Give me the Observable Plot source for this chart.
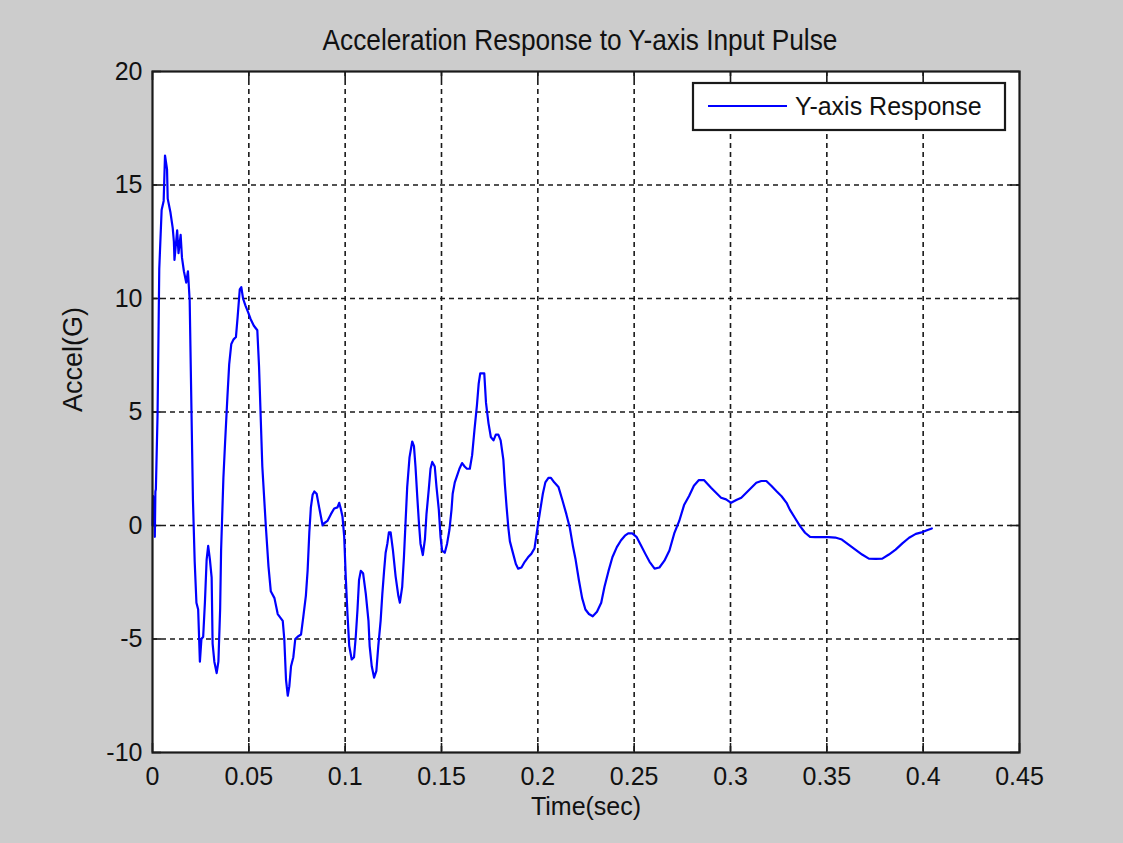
<!DOCTYPE html>
<html><head><meta charset="utf-8">
<script src="https://cdn.jsdelivr.net/npm/d3@7"></script>
<script src="https://cdn.jsdelivr.net/npm/@observablehq/plot@0.6"></script>
<style>
html,body{margin:0;padding:0;background:#cccccc;}
#wrap{position:relative;width:1123px;height:843px;background:#cccccc;overflow:hidden;font-family:"Liberation Sans",Arial,sans-serif;}
#title{position:absolute;left:0;top:0;}
#chart{position:absolute;left:0;top:58px;}
#legend{position:absolute;left:0;top:0;pointer-events:none;}
</style></head><body>
<div id="wrap">
<svg id="title" width="1123" height="58"></svg>
<div id="chart"></div>
<svg id="legend" width="1123" height="843"></svg>
</div>
<script>
const titleText = "Acceleration Response to Y-axis Input Pulse";
const xLabel = "Time(sec)";
const yLabel = "Accel(G)";
const seriesName = "Y-axis Response";
const xTicks = [0, 0.05, 0.1, 0.15, 0.2, 0.25, 0.3, 0.35, 0.4, 0.45];
const xTickLabels = ["0", "0.05", "0.1", "0.15", "0.2", "0.25", "0.3", "0.35", "0.4", "0.45"];
const yTicks = [-10, -5, 0, 5, 10, 15, 20];
const yTickLabels = ["-10", "-5", "0", "5", "10", "15", "20"];

const time = [
  0, 0.0003, 0.0006, 0.0009, 0.0012, 0.0015, 0.00175, 0.00263, 0.00351, 0.00474,
  0.00579, 0.00649, 0.00754, 0.00789, 0.0093, 0.0105, 0.0111, 0.0114, 0.0128, 0.0135,
  0.0146, 0.0153, 0.0163, 0.0175, 0.0184, 0.0193, 0.0202, 0.0210, 0.0219, 0.0228,
  0.0237, 0.0246, 0.0254, 0.0263, 0.0272, 0.0281, 0.0289, 0.0298, 0.0307, 0.0312,
  0.0321, 0.0333, 0.0342, 0.0351, 0.0356, 0.0368, 0.0377, 0.0389, 0.0398, 0.0409,
  0.0421, 0.0433, 0.0442, 0.0453, 0.0461, 0.0470, 0.0482, 0.0496, 0.0509, 0.0526,
  0.0544, 0.0553, 0.0570, 0.0588, 0.0602, 0.0614,
  0.0633, 0.0650, 0.0676, 0.0684, 0.0693, 0.0702, 0.0710, 0.0719, 0.0731, 0.0741,
  0.0753, 0.0771, 0.0783, 0.0796, 0.0805, 0.0814, 0.0822, 0.0831, 0.0840, 0.0852,
  0.0865, 0.0874, 0.0883, 0.0891, 0.0908, 0.0926, 0.0943, 0.0960, 0.0969, 0.0977,
  0.0986, 0.0995, 0.1003, 0.1012, 0.1021, 0.1034, 0.1046, 0.1055, 0.1064, 0.1072,
  0.1081, 0.1093, 0.1107, 0.1121, 0.1127, 0.1138, 0.1150, 0.1162, 0.1172, 0.1184,
  0.1193, 0.1202, 0.1210, 0.1219, 0.1227, 0.1236, 0.1248, 0.1262, 0.1276, 0.1284,
  0.1296, 0.1305, 0.1314, 0.1322, 0.1334, 0.1348, 0.1357, 0.1365, 0.1374, 0.1383,
  0.1391, 0.1403, 0.1414, 0.1422, 0.1434, 0.1443, 0.1452, 0.1465, 0.1474, 0.1486,
  0.1495, 0.1503, 0.1517, 0.1529, 0.1541, 0.1552, 0.1558, 0.1569, 0.1581, 0.1593,
  0.1607, 0.1620, 0.1632, 0.1647,
  0.1659, 0.1671, 0.1684, 0.1693, 0.1701, 0.1722, 0.1731, 0.1744, 0.1756, 0.1770,
  0.1782, 0.1795, 0.1807, 0.1821, 0.1829, 0.1838, 0.1847, 0.1855, 0.1872, 0.1886,
  0.1898, 0.1915, 0.1932, 0.1949, 0.1966, 0.1983, 0.2000, 0.2012, 0.2026, 0.2039,
  0.2055, 0.2068, 0.2085, 0.2107, 0.2128, 0.2148, 0.2166, 0.2183, 0.2196, 0.2213,
  0.2230, 0.2247, 0.2265, 0.2285, 0.2307, 0.2329, 0.2346, 0.2367, 0.2387, 0.2410,
  0.2432, 0.2452, 0.2469, 0.2490, 0.2512, 0.2537, 0.2558, 0.2580, 0.2606, 0.2631,
  0.2657, 0.2683, 0.2708, 0.2734, 0.2759, 0.2785, 0.2810, 0.2836, 0.2862,
  0.2899, 0.2925, 0.2951, 0.2977, 0.3003, 0.3030, 0.3056, 0.3082, 0.3108, 0.3134,
  0.3160, 0.3186, 0.3213, 0.3239, 0.3265, 0.3291, 0.3308, 0.3334, 0.3361, 0.3387,
  0.3413, 0.3439, 0.3474, 0.3509, 0.3544, 0.3578, 0.3613, 0.3648, 0.3683, 0.3718,
  0.3753, 0.3788, 0.3822, 0.3857, 0.3892, 0.3927, 0.3962, 0.3997, 0.4023, 0.4045
];
const accel = [
  0, 1.3, 0.2, 1.2, -0.5, 1.5, 1.6, 4.9, 11.3, 13.9,
  14.3, 16.3, 15.7, 14.4, 13.8, 13.1, 12.5, 11.7, 13.0, 12.0,
  12.8, 11.8, 11.2, 10.7, 11.2, 9.9, 5.2, 1.1, -1.6, -3.4,
  -3.7, -6.0, -5.0, -4.9, -3.4, -1.5, -0.9, -1.5, -2.3, -5.2,
  -6.0, -6.5, -6.0, -3.7, -1.1, 2.1, 3.7, 5.7, 7.1, 8.0,
  8.2, 8.3, 9.2, 10.4, 10.5, 10.0, 9.7, 9.4, 9.1, 8.8,
  8.6, 7.0, 2.6, 0, -1.8, -2.9,
  -3.2, -3.9, -4.2, -5.0, -6.8, -7.5, -7.1, -6.2, -5.8, -5.0,
  -4.9, -4.8, -4.0, -3.1, -2.0, -0.3, 0.8, 1.35, 1.5, 1.4,
  0.8, 0.4, 0, 0.1, 0.2, 0.5, 0.75, 0.8, 1.0, 0.75,
  0.4, -0.5, -2.25, -3.9, -5.3, -5.9, -5.8, -4.9, -3.7, -2.4,
  -2.0, -2.1, -3.0, -4.2, -5.3, -6.2, -6.7, -6.4, -5.3, -4.2,
  -3.0, -2.0, -1.2, -0.8, -0.3, -0.3, -1.1, -2.25, -3.1, -3.4,
  -2.7, -1.4, 0.25, 1.7, 3.0, 3.7, 3.5, 2.6, 1.3, 0.1,
  -0.8, -1.3, -0.6, 0.5, 1.6, 2.5, 2.8, 2.6, 1.7, 0.7,
  -0.5, -1.1, -1.2, -0.8, -0.2, 0.7, 1.4, 1.9, 2.2, 2.5,
  2.75, 2.6, 2.5, 2.5,
  3.1, 4.2, 5.3, 6.25, 6.7, 6.7, 5.4, 4.5, 3.9, 3.75,
  4.0, 4.0, 3.75, 2.9, 1.8, 0.8, -0.1, -0.7, -1.25, -1.7,
  -1.9, -1.85, -1.6, -1.4, -1.25, -1.0, 0, 0.65, 1.4, 1.9,
  2.1, 2.1, 1.9, 1.7, 1.1, 0.5, -0.1, -0.95, -1.5, -2.4,
  -3.2, -3.7, -3.9, -4.0, -3.8, -3.4, -2.7, -2.0, -1.4, -0.95,
  -0.65, -0.45, -0.35, -0.35, -0.5, -0.9, -1.25, -1.6, -1.9, -1.85,
  -1.55, -1.1, -0.35, 0.2, 0.9, 1.3, 1.75, 2.0, 2.0,
  1.66, 1.44, 1.22, 1.15, 1.0, 1.12, 1.22, 1.44, 1.66, 1.88,
  1.96, 1.96, 1.74, 1.51, 1.29, 1.0, 0.7, 0.34, -0.03, -0.32,
  -0.5, -0.51, -0.51, -0.51, -0.53, -0.62, -0.84, -1.06, -1.28, -1.46,
  -1.47, -1.46, -1.28, -1.06, -0.79, -0.54, -0.37, -0.29, -0.2, -0.13
];

const font = "'Liberation Sans', Arial, sans-serif";
const ink = "#111111";
const data = time.map((t, i) => ({t, a: accel[i]}));

const W = 1123, H = 785, mL = 152, mR = 104, mT = 13, mB = 91;
const plotH = H - mT - mB, plotW = W - mL - mR;
const tk = 9;
const gridX = xTicks.slice(1, -1), gridY = yTicks.slice(1, -1);
const fmtX = d => xTickLabels[xTicks.indexOf(d)];
const fmtY = d => yTickLabels[yTicks.indexOf(d)];

const chart = Plot.plot({
  width: W, height: H,
  marginLeft: mL, marginRight: mR, marginTop: mT, marginBottom: mB,
  style: {background: "transparent", fontFamily: font, color: ink, overflow: "visible"},
  x: {domain: [0, 0.45]},
  y: {domain: [-10, 20]},
  marks: [
    Plot.frame({fill: "white", stroke: null}),
    Plot.ruleX(gridX, {stroke: "#1a1a1a", strokeWidth: 1.6, strokeDasharray: "5,4"}),
    Plot.ruleY(gridY, {stroke: "#1a1a1a", strokeWidth: 1.6, strokeDasharray: "5,4"}),
    Plot.ruleX(xTicks, {insetTop: plotH - tk, stroke: "#1a1a1a", strokeWidth: 1.6}),
    Plot.ruleX(xTicks, {insetBottom: plotH - tk, stroke: "#1a1a1a", strokeWidth: 1.6}),
    Plot.ruleY(yTicks, {insetRight: plotW - tk, stroke: "#1a1a1a", strokeWidth: 1.6}),
    Plot.ruleY(yTicks, {insetLeft: plotW - tk, stroke: "#1a1a1a", strokeWidth: 1.6}),
    Plot.line(data, {x: "t", y: "a", stroke: "#0000ff", strokeWidth: 2.2}),
    Plot.frame({stroke: "#1a1a1a", strokeWidth: 2.2}),
    Plot.axisX(xTicks, {tickSize: 0, tickPadding: 15, tickFormat: fmtX, fontSize: 25, label: null, fill: ink}),
    Plot.axisY(yTicks, {tickSize: 0, tickPadding: 10, tickFormat: fmtY, fontSize: 25, label: null, fill: ink}),
    Plot.text([xLabel], {text: d => d, frameAnchor: "bottom", dy: 54, fontSize: 25, lineAnchor: "middle", fill: ink}),
    Plot.text([yLabel], {text: d => d, frameAnchor: "left", dx: -79, rotate: -90, fontSize: 27, lineAnchor: "middle", fill: ink})
  ]
});
document.getElementById("chart").appendChild(chart);

// Title
d3.select("#title").append("text")
  .attr("transform", "translate(580,50) scale(0.875,1)")
  .attr("text-anchor", "middle")
  .attr("font-family", font)
  .attr("font-size", 30)
  .attr("fill", ink)
  .text(titleText);

// Legend
const lg = d3.select("#legend");
lg.append("rect").attr("x", 693).attr("y", 83).attr("width", 312).attr("height", 47)
  .attr("fill", "white").attr("stroke", "#1a1a1a").attr("stroke-width", 2.2);
lg.append("line").attr("x1", 708).attr("x2", 787).attr("y1", 106).attr("y2", 106)
  .attr("stroke", "#0000ff").attr("stroke-width", 2.2);
lg.append("text").attr("x", 795).attr("y", 114.5)
  .attr("font-family", font).attr("font-size", 25).attr("fill", ink)
  .text(seriesName);
</script>
</body></html>
